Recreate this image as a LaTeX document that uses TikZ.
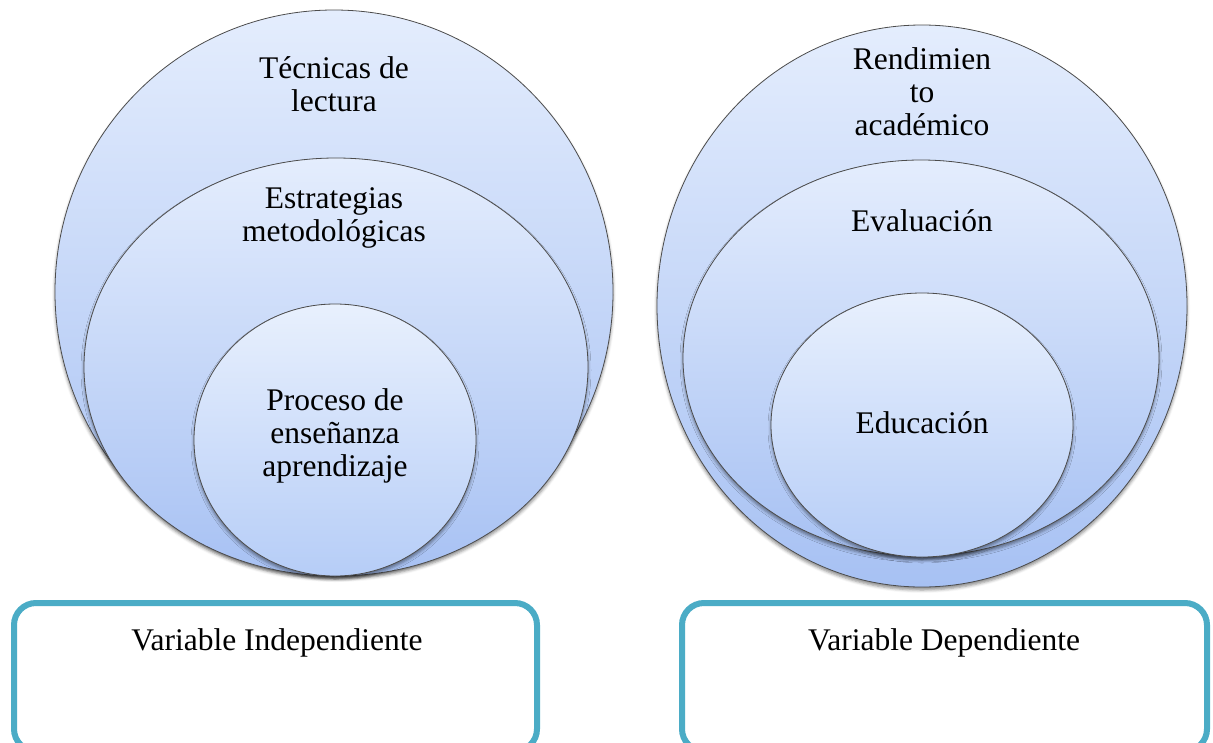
\documentclass[tikz,border=0pt]{standalone}
\usepackage{fontspec}
\setmainfont{Liberation Serif}
\usetikzlibrary{shadows.blur}
\definecolor{lite}{HTML}{E4EDFD}
\definecolor{deep}{HTML}{A7C1F3}
\definecolor{liteB}{HTML}{E8F0FD}
\definecolor{deepB}{HTML}{B6CDF7}
\definecolor{boxteal}{HTML}{4BACC6}
\tikzset{
  bubble/.style={draw=black!70, line width=0.8pt, top color=lite, bottom color=deep,
    blur shadow={shadow xshift=0pt, shadow yshift=-3pt, shadow blur radius=3pt, shadow opacity=45}},
  bubblein/.style={bubble, top color=liteB, bottom color=deepB},
  lbl/.style={align=center, font=\fontsize{31.5}{33}\selectfont, inner sep=0pt},
  varbox/.style={draw=boxteal, line width=6pt, rounded corners=22pt, fill=white}
}
\begin{document}
\begin{tikzpicture}[x=1pt,y=-1pt]
\useasboundingbox (0,0) rectangle (1213,742);
\clip (0,0) rectangle (1213,742);
% left group
\path[bubble] (334,292) ellipse [x radius=279pt, y radius=282pt];
\path[bubble] (336,367) ellipse [x radius=252pt, y radius=209pt];
\path[bubblein] (335,440) ellipse [x radius=141pt, y radius=136pt];
\node[lbl] (tl) at (334,84) {Técnicas de\\lectura};
\node[lbl] (em) at (334,218) {Estrategias\\metodológicas};
\node[lbl] (pe) at (335,436) {Proceso de\\enseñanza\\aprendizaje};
% right group
\path[bubble] (922,306) ellipse [x radius=265pt, y radius=281pt];
\path[bubble] (921,358) ellipse [x radius=238pt, y radius=198pt];
\path[bubblein] (922,425) ellipse [x radius=151pt, y radius=132pt];
\node[lbl] (ra) at (922,92) {Rendimien\\to\\académico};
\node[lbl] (ev) at (922,221) {Evaluación};
\node[lbl] (ed) at (922,423) {Educación};
% boxes
\draw[varbox] (14,603) rectangle (537,751);
\draw[varbox] (682,603) rectangle (1207,751);
\node[lbl] (vi) at (277,643) {Variable Independiente};
\node[lbl] (vd) at (944,643) {Variable Dependiente};
\end{tikzpicture}
\end{document}
